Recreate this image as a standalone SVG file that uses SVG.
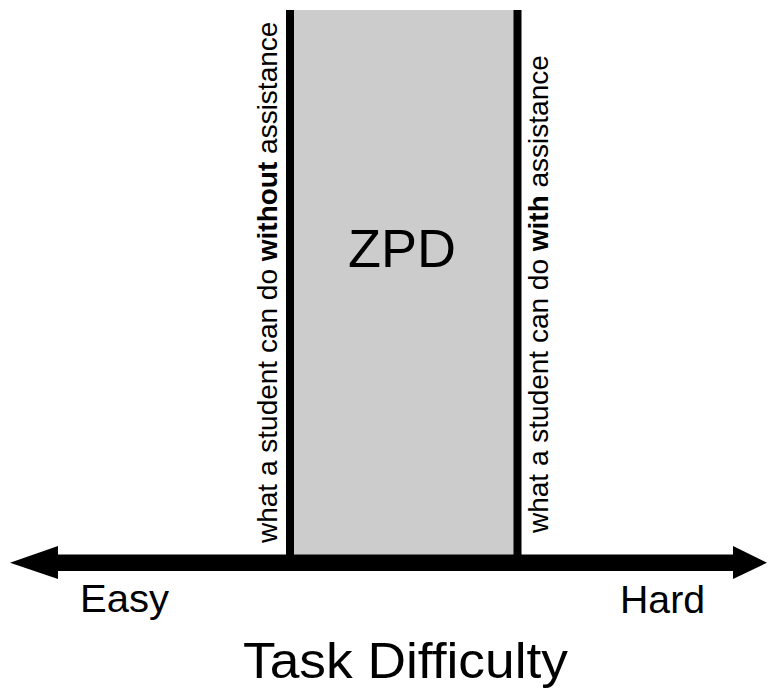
<svg xmlns="http://www.w3.org/2000/svg" width="769" height="694" viewBox="0 0 769 694">
<style>
text{font-family:"Liberation Sans",Arial,Helvetica,sans-serif;fill:#000}
.side{font-size:28px}
.b{font-weight:bold}
.lbl{font-size:38.5px}
</style>
<rect width="769" height="694" fill="#fff"/>
<g id="zpd">
<rect x="290" y="10" width="228" height="546" fill="#cccccc"/>
<text x="348" y="267" font-size="54">ZPD</text>
</g>
<g id="connectors">
<line x1="290" y1="10" x2="290" y2="556" stroke="#000" stroke-width="8"/>
<line x1="517.5" y1="10" x2="517.5" y2="556" stroke="#000" stroke-width="8"/>
<rect x="55" y="554.5" width="681" height="16.5" fill="#000"/>
<polygon points="10,562.7 58,546 58,579" fill="#000"/>
<polygon points="767,562.7 733,546 733,579" fill="#000"/>
</g>
<g id="without">
<text class="side" transform="translate(277,543) rotate(-90)">what a student can do <tspan class="b">without</tspan> assistance</text>
</g>
<g id="with">
<text class="side" transform="translate(548,533) rotate(-90)">what a student can do <tspan class="b">with</tspan> assistance</text>
</g>
<g id="easy"><text class="lbl" x="80" y="612" textLength="89" lengthAdjust="spacingAndGlyphs">Easy</text></g>
<g id="hard"><text class="lbl" x="620" y="613" textLength="85" lengthAdjust="spacingAndGlyphs">Hard</text></g>
<g id="title"><text x="243" y="678" font-size="50" textLength="325" lengthAdjust="spacingAndGlyphs">Task Difficulty</text></g>
</svg>
